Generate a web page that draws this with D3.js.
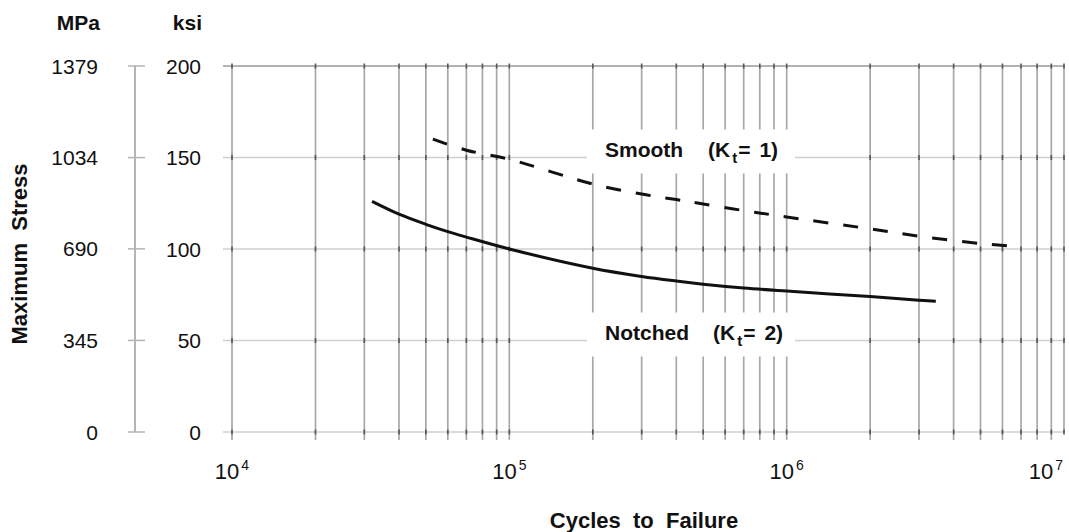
<!DOCTYPE html>
<html>
<head>
<meta charset="utf-8">
<script src="https://cdn.jsdelivr.net/npm/d3@7"></script>
<style>
  body { margin: 0; background: #fff; }
  text { font-family: "Liberation Sans", Arial, Helvetica, sans-serif; fill: #111; }
</style>
</head>
<body>
<div id="chart"></div>
<script>
// valors llegits del gràfic
const ksiTicks = [0, 50, 100, 150, 200];
const mpaTicks = [0, 345, 690, 1034, 1379];
const decadeTicks = [1e4, 1e5, 1e6, 1e7];

const notchedCycles = [3.2e4, 4e4, 5e4, 6e4, 7e4, 1e5, 2e5, 3e5, 4e5, 5e5, 7e5, 1e6, 2e6, 3e6, 3.45e6];
const notchedKsi    = [126, 119, 113.5, 109.5, 106.5, 100, 89.5, 85, 82.5, 80.8, 78.7, 77, 74, 72, 71.4];

const smoothCycles = [5.3e4, 7e4, 1e5, 2e5, 3e5, 4e5, 5e5, 7e5, 1e6, 2e6, 3e6, 5e6, 6.5e6];
const smoothKsi    = [160, 154, 149, 135.5, 130, 127, 124.6, 121, 117.5, 111, 107, 103, 101.5];

const width = 1069, height = 532;

const svg = d3.select("#chart")
    .append("svg")
        .attr("width", width)
        .attr("height", height);

const x = d3.scaleLog().domain([1e4, 1e7]).range([232, 1064]);
const y = d3.scaleLinear().domain([0, 200]).range([432, 66]);
const yM = d3.scaleLinear().domain([0, 1379]).range([432, 66]);

const gridX = x.ticks();

// Línies horitzontals
svg.append("g")
    .selectAll("line")
    .data(ksiTicks)
    .enter()
    .append("line")
        .attr("x1", 223).attr("x2", 1064)
        .attr("y1", d => y(d)).attr("y2", d => y(d))
        .attr("stroke", d => d === 200 ? "#999" : "#cfcfcf")
        .attr("stroke-width", 1.5);

// Línies verticals
svg.append("g")
    .selectAll("line")
    .data(gridX)
    .enter()
    .append("line")
        .attr("x1", d => x(d)).attr("x2", d => x(d))
        .attr("y1", y(200))
        .attr("y2", d => d === 1e7 ? y(0) : y(0) + 8)
        .attr("stroke", "#a8a8a8")
        .attr("stroke-width", 1.7);

// marques a les interseccions
const marks = [];
gridX.forEach(gx => ksiTicks.forEach(k => marks.push([gx, k])));
svg.append("g")
    .selectAll("line")
    .data(marks)
    .enter()
    .append("line")
        .attr("x1", d => x(d[0])).attr("x2", d => x(d[0]))
        .attr("y1", d => y(d[1]) - 2.5).attr("y2", d => y(d[1]) + 2.5)
        .attr("stroke", "#555")
        .attr("stroke-width", 1.6);

// Eix MPa
svg.append("line")
    .attr("x1", 135).attr("x2", 135)
    .attr("y1", yM(1379)).attr("y2", yM(0))
    .attr("stroke", "#a8a8a8")
    .attr("stroke-width", 1.7);

svg.append("g")
    .selectAll("line")
    .data(mpaTicks)
    .enter()
    .append("line")
        .attr("x1", 128).attr("x2", 145)
        .attr("y1", d => yM(d)).attr("y2", d => yM(d))
        .attr("stroke", "#b4b4b4")
        .attr("stroke-width", 1.5);

svg.append("g")
    .selectAll("text")
    .data(mpaTicks)
    .enter()
    .append("text")
        .attr("x", 98)
        .attr("y", d => yM(d) + 7.5)
        .attr("text-anchor", "end")
        .style("font-size", "21px")
        .text(d => d);

svg.append("g")
    .selectAll("text")
    .data(ksiTicks)
    .enter()
    .append("text")
        .attr("x", 201)
        .attr("y", d => y(d) + 7.5)
        .attr("text-anchor", "end")
        .style("font-size", "21px")
        .text(d => d);

// Capçaleres d'unitats
svg.append("text")
    .attr("x", 100).attr("y", 30)
    .attr("text-anchor", "end")
    .style("font-size", "21px")
    .style("font-weight", "bold")
    .text("MPa");

svg.append("text")
    .attr("x", 202).attr("y", 30)
    .attr("text-anchor", "end")
    .style("font-size", "21px")
    .style("font-weight", "bold")
    .text("ksi");

// Etiquetes eix X (10^n)
const xl = svg.append("g")
    .selectAll("text")
    .data(decadeTicks)
    .enter()
    .append("text")
        .attr("x", d => Math.min(x(d), 1046))
        .attr("y", 479)
        .attr("text-anchor", "middle")
        .style("font-size", "22px");
xl.append("tspan").text("10");
xl.append("tspan")
    .attr("dy", -9)
    .attr("dx", 2)
    .style("font-size", "14px")
    .text(d => Math.round(Math.log10(d)));

// Títols
svg.append("text")
    .attr("x", 644).attr("y", 528)
    .attr("text-anchor", "middle")
    .style("font-size", "22px")
    .style("font-weight", "bold")
    .attr("xml:space", "preserve")
    .text("Cycles  to  Failure");

svg.append("text")
    .attr("transform", "rotate(-90)")
    .attr("x", -254).attr("y", 27)
    .attr("text-anchor", "middle")
    .style("font-size", "22px")
    .style("font-weight", "bold")
    .attr("xml:space", "preserve")
    .text("Maximum  Stress");

// Corbes
const line = d3.line()
    .x(d => x(d[0]))
    .y(d => y(d[1]))
    .curve(d3.curveCatmullRom.alpha(0.5));

svg.append("path")
    .datum(d3.zip(smoothCycles, smoothKsi))
    .attr("d", line)
    .attr("fill", "none")
    .attr("stroke", "#111")
    .attr("stroke-width", 3)
    .attr("stroke-dasharray", "15,15");

svg.append("path")
    .datum(d3.zip(notchedCycles, notchedKsi))
    .attr("d", line)
    .attr("fill", "none")
    .attr("stroke", "#111")
    .attr("stroke-width", 3);

// Etiquetes de les corbes, amb fons blanc
function curveLabel(name, kt, ksiLevel, kOffset) {
    const cy = y(ksiLevel);
    svg.append("rect")
        .attr("x", 587).attr("y", cy - 28)
        .attr("width", 208).attr("height", 44)
        .attr("fill", "#fff");
    svg.append("text")
        .attr("x", 605).attr("y", cy - 1)
        .style("font-size", "21px")
        .style("font-weight", "bold")
        .text(name);
    const t = svg.append("text")
        .attr("x", 708 + kOffset).attr("y", cy - 1)
        .style("font-size", "21px")
        .style("font-weight", "bold");
    t.append("tspan").text("(K");
    t.append("tspan")
        .attr("dy", 6)
        .attr("dx", 2)
        .style("font-size", "15px")
        .text("t");
    t.append("tspan")
        .attr("dy", -6)
        .attr("dx", 1)
        .text("=");
    t.append("tspan")
        .attr("dx", 9)
        .text(kt + ")");
}

curveLabel("Smooth", 1, 150, 0);
curveLabel("Notched", 2, 50, 5);
</script>
</body>
</html>
